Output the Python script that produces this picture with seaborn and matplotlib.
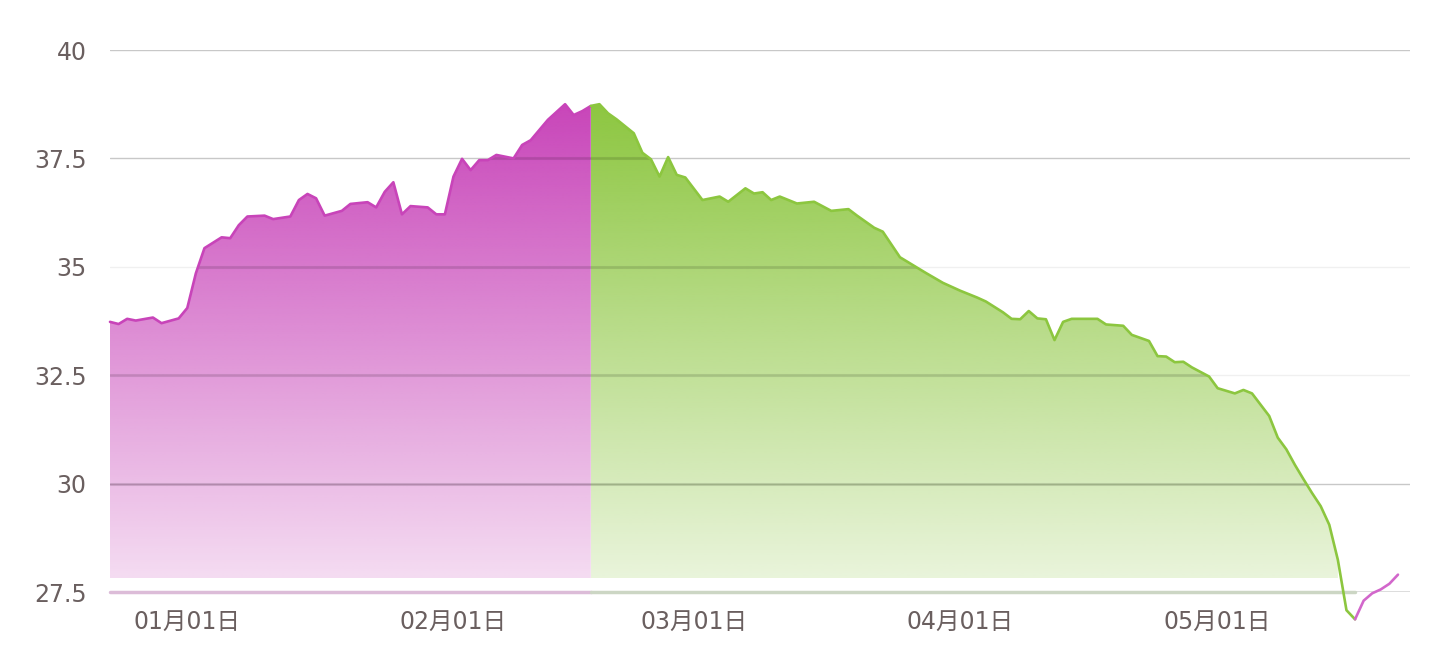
import numpy as np
import pandas as pd
import matplotlib
matplotlib.use("Agg")
import matplotlib.pyplot as plt
import matplotlib.dates as mdates
import seaborn as sns

# day offsets from Jan 1 and values
rise_days = [-9, -8, -7, -6, -4, -3, -1, 0, 1, 2, 4, 5, 6, 7, 9, 10, 12, 13, 14, 15,
             16, 18, 19, 21, 22, 23, 24, 25, 26, 28, 29, 30, 31, 32, 33, 34, 35, 36,
             38, 39, 40, 42, 44, 45, 46, 47]
rise_vals = [33.73, 33.68, 33.80, 33.76, 33.83, 33.70, 33.81, 34.05, 34.85, 35.43,
             35.68, 35.66, 35.96, 36.16, 36.18, 36.10, 36.16, 36.54, 36.68, 36.58,
             36.18, 36.29, 36.45, 36.49, 36.37, 36.73, 36.95, 36.21, 36.40, 36.37,
             36.21, 36.21, 37.08, 37.49, 37.23, 37.46, 37.46, 37.58, 37.50, 37.81,
             37.92, 38.39, 38.75, 38.50, 38.59, 38.71]

fall_days = [47, 48, 49, 50, 52, 53, 54, 55, 56, 57, 58, 60, 62, 63, 65, 66, 67, 68,
             69, 71, 73, 75, 77, 78, 80, 81, 83, 84, 86, 88, 90, 92, 93, 95, 96, 97,
             98, 99, 100, 101, 102, 103, 106, 107, 109, 110, 112, 113, 114, 115, 116,
             117, 119, 120, 122, 123, 124, 126, 127, 128, 129, 130, 131, 132, 133,
             134, 135, 136]
fall_vals = [38.71, 38.75, 38.54, 38.40, 38.08, 37.63, 37.48, 37.08, 37.53, 37.12,
             37.06, 36.54, 36.62, 36.50, 36.81, 36.69, 36.72, 36.54, 36.62, 36.46,
             36.50, 36.29, 36.33, 36.18, 35.90, 35.81, 35.22, 35.10, 34.86, 34.63,
             34.45, 34.29, 34.20, 33.95, 33.80, 33.79, 33.98, 33.81, 33.79, 33.31,
             33.73, 33.80, 33.80, 33.67, 33.64, 33.43, 33.29, 32.94, 32.93, 32.80,
             32.81, 32.68, 32.47, 32.20, 32.08, 32.16, 32.08, 31.56, 31.06, 30.79,
             30.43, 30.10, 29.78, 29.48, 29.05, 28.24, 27.08, 26.87]

tail_days = [136, 137, 138, 139, 140, 141]
tail_vals = [26.87, 27.30, 27.47, 27.56, 27.69, 27.90]

y_ticks = [27.5, 30, 32.5, 35, 37.5, 40]
y_labels = ["27.5", "30", "32.5", "35", "37.5", "40"]
x_tick_months = [1, 2, 3, 4, 5]

base = pd.Timestamp("2021-01-01")
PINK = "#c844b9"
GREEN = "#8cc63f"
FILL_BASE = 27.82

def frame(days, vals, name):
    return pd.DataFrame({"date": base + pd.to_timedelta(days, unit="D"),
                         "value": vals, "seg": name})

df = pd.concat([frame(rise_days, rise_vals, "a"),
                frame(fall_days, fall_vals, "b"),
                frame(tail_days, tail_vals, "c")], ignore_index=True)

sns.set_style("white")
plt.rcParams["font.family"] = ["DejaVu Sans", "Noto Sans CJK SC"]

fig = plt.figure(figsize=(14.31, 6.65), dpi=100)
ax = fig.add_axes([110 / 1431, 1 - 592 / 665, 1300 / 1431, 542 / 665])

xmin = mdates.date2num(base - pd.Timedelta(days=9.0))
xmax = mdates.date2num(base + pd.Timedelta(days=142.4))
ax.set_xlim(xmin, xmax)
ax.set_ylim(27.5, 40)

# background grid
for v in [30, 37.5, 40]:
    ax.axhline(v, color="#c8c8c8", lw=1, zorder=0)
for v in [32.5, 35]:
    ax.axhline(v, color="#f0f0f0", lw=1, zorder=0)

# gradient area fills
def gradient_fill(sub, color):
    x = mdates.date2num(sub["date"])
    y = sub["value"].to_numpy()
    poly = ax.fill_between(x, FILL_BASE, y, where=y >= FILL_BASE,
                           color="none", lw=0)
    rgb = matplotlib.colors.to_rgb(color)
    n = 256
    img = np.zeros((n, 1, 4))
    img[:, 0, :3] = rgb
    img[:, 0, 3] = np.linspace(1.0, 0.19, n)
    im = ax.imshow(img, aspect="auto", extent=[x.min(), x.max(), FILL_BASE, 38.8],
                   origin="upper", zorder=1, interpolation="bilinear")
    path = poly.get_paths()[0]
    im.set_clip_path(path, transform=ax.transData)
    for v in [30, 32.5, 35, 37.5]:
        ln = ax.axhline(v, color="black", alpha=0.11, lw=2.2, zorder=2)
        ln.set_clip_path(path, transform=ax.transData)

gradient_fill(df[df.seg == "a"], PINK)
gradient_fill(df[df.seg == "b"], GREEN)

# bottom baseline, coloured by segment
ax.axhline(27.5, color="#d9d9d9", lw=2, zorder=1)
seg_a = df[df.seg == "a"]
ax.plot([seg_a["date"].min(), seg_a["date"].max()],
        [27.5, 27.5], color="#dcbcd8", lw=2.5, zorder=1, clip_on=False)
seg_b = df[df.seg == "b"]
ax.plot([seg_b["date"].min(), seg_b["date"].max()], [27.5, 27.5],
        color="#ccd6c4", lw=2.5, zorder=1, clip_on=False)

sns.lineplot(data=df, x="date", y="value", hue="seg", estimator=None,
             palette={"a": PINK, "b": GREEN, "c": "#d267cb"}, lw=1.9,
             legend=False, ax=ax, zorder=3, clip_on=False)

for s in ax.spines.values():
    s.set_visible(False)

ax.set_yticks(y_ticks)
ax.set_yticklabels(y_labels)
ax.set_xticks([mdates.date2num(pd.Timestamp(2021, m, 1)) for m in x_tick_months])
ax.xaxis.set_major_formatter(mdates.DateFormatter("%m月%d日"))
ax.tick_params(axis="y", length=0, pad=17, labelsize=17, labelcolor="#6a5f5f")
ax.tick_params(axis="x", length=7, width=1, color="#d8c8d8", pad=6,
               labelsize=17, labelcolor="#6a5f5f")
ax.set_xlabel("")
ax.set_ylabel("")
ax.grid(False)

fig.savefig("out.png", dpi=100)
